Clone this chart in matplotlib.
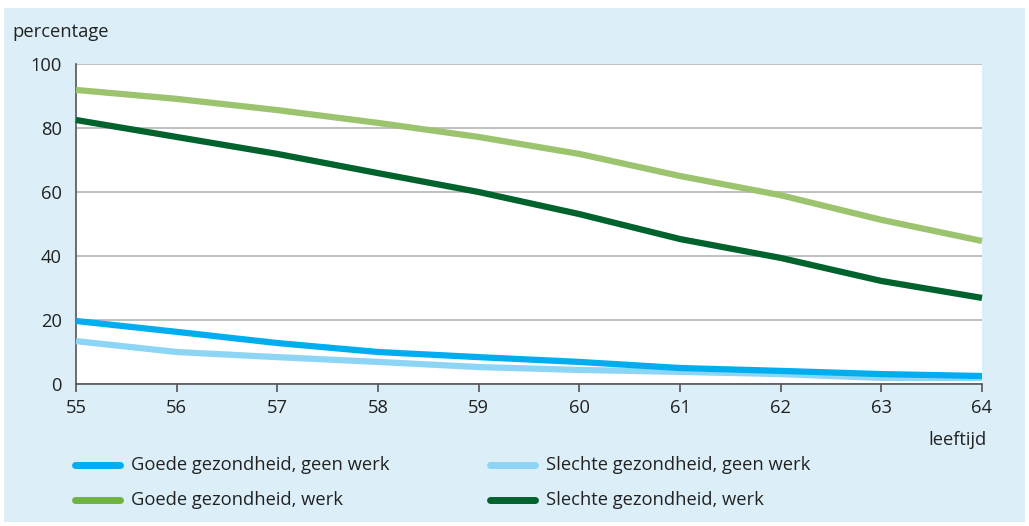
import matplotlib
matplotlib.use("Agg")
import matplotlib.pyplot as plt
from matplotlib.lines import Line2D
from matplotlib.patches import Rectangle

ages = [55, 56, 57, 58, 59, 60, 61, 62, 63, 64]
goede_geen_werk = [19.7, 16.3, 12.8, 10.0, 8.4, 6.9, 5.0, 4.1, 3.1, 2.5]
slechte_geen_werk = [13.4, 10.0, 8.4, 6.9, 5.3, 4.4, 3.8, 3.1, 1.9, 1.9]
goede_werk = [91.9, 89.1, 85.6, 81.6, 77.2, 71.9, 65.0, 59.0, 51.3, 44.7]
slechte_werk = [82.5, 77.2, 71.9, 65.9, 60.0, 53.1, 45.3, 39.4, 32.2, 26.9]
y_ticks = [0, 20, 40, 60, 80, 100]
labels = ["Goede gezondheid, geen werk", "Slechte gezondheid, geen werk",
          "Goede gezondheid, werk", "Slechte gezondheid, werk"]

plt.rcParams['font.family'] = ['Open Sans', 'DejaVu Sans']
W, H = 1029, 526
FS = 13.2
fig = plt.figure(figsize=(W / 100, H / 100), dpi=100, facecolor='white')
fig.patches.append(Rectangle((4 / W, 1 - 522 / H), 1021 / W, 514 / H,
                             transform=fig.transFigure, facecolor='#dceff9',
                             edgecolor='none', zorder=-5))

ax = fig.add_axes([76 / W, 1 - 384 / H, (982 - 76) / W, (384 - 64) / H])
ax.set_zorder(2)
ax.set_facecolor('white')

c_blue = '#00aeef'
c_lblue = '#8dd5f5'
c_lgreen = '#9cc46e'
c_dgreen = '#00622d'

lw = 4.5
ax.plot(ages, goede_werk, color=c_lgreen, lw=lw, solid_capstyle='butt', zorder=3, clip_on=False)
ax.plot(ages, slechte_werk, color=c_dgreen, lw=lw, solid_capstyle='butt', zorder=3, clip_on=False)
ax.plot(ages, slechte_geen_werk, color=c_lblue, lw=lw, solid_capstyle='butt', zorder=3, clip_on=False)
ax.plot(ages, goede_geen_werk, color=c_blue, lw=lw, solid_capstyle='butt', zorder=4, clip_on=False)

ax.set_xlim(55, 64)
ax.set_ylim(0, 100)
ax.set_xticks(ages)
ax.set_yticks(y_ticks)
ax.grid(axis='y', color='#b4b4b4', lw=1.2, zorder=1)
ax.set_axisbelow(True)
for s in ['top', 'right']:
    ax.spines[s].set_visible(False)
ax.spines['left'].set_color('#555555')
ax.spines['bottom'].set_color('#555555')
ax.spines['left'].set_linewidth(1.2)
ax.spines['bottom'].set_linewidth(1.2)
ax.tick_params(axis='y', length=0, pad=10, labelsize=FS, labelcolor='#222222')
ax.tick_params(axis='x', length=6, width=1.2, color='#555555', pad=5,
               labelsize=FS, labelcolor='#222222')

fig.text(12 / W, 1 - 32 / H, 'percentage', fontsize=FS, color='#222222',
         ha='left', va='center')
fig.text(987 / W, 1 - 440 / H, 'leeftijd', fontsize=FS, color='#222222',
         ha='right', va='center')

legend_colors = [c_blue, c_lblue, '#6cb33f', c_dgreen]
positions = [(75, 465), (490, 465), (75, 500), (490, 500)]
for (x, y), col, lab in zip(positions, legend_colors, labels):
    fig.add_artist(Line2D([x / W, (x + 45) / W], [1 - y / H, 1 - y / H],
                          color=col, lw=5, solid_capstyle='round',
                          transform=fig.transFigure))
    fig.text((x + 56) / W, 1 - y / H, lab, fontsize=FS, color='#222222',
             ha='left', va='center')

fig.savefig('out.png', dpi=100, facecolor=fig.get_facecolor())
